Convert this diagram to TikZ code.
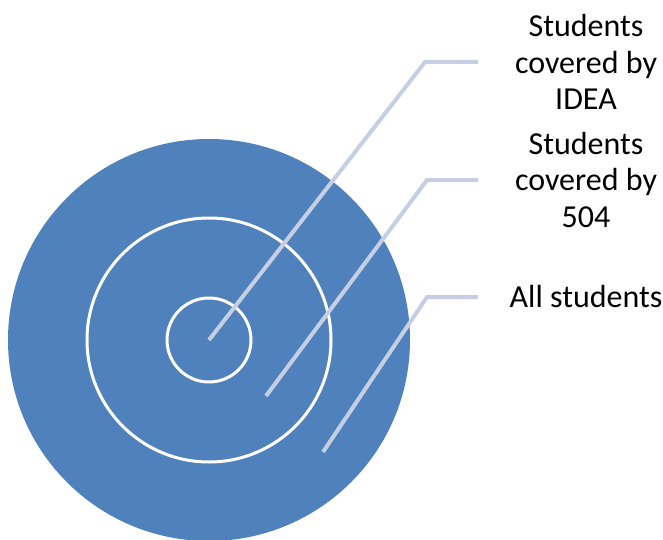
\documentclass[tikz,border=0pt]{standalone}
\usepackage{fontspec}
\setmainfont{Carlito}
\usepackage{tikz}
\usetikzlibrary{arrows}

\definecolor{discblue}{RGB}{79,129,189}
\definecolor{leadgray}{RGB}{198,206,228}

\begin{document}
\begin{tikzpicture}[x=1pt,y=-1pt,
  disc node/.style={circle,fill=discblue,inner sep=0pt},
  ring node/.style={circle,draw=white,line width=3pt,inner sep=0pt},
  text node/.style={align=center,anchor=base,text=black,font=\fontsize{32}{36.5}\selectfont},
  leader/.style={draw=leadgray,line width=4pt}]
  \useasboundingbox (0,0) rectangle (663,540);

  \node[disc node,minimum size=402pt] (all) at (209,340) {};
  \node[ring node,minimum size=244pt] (s504) at (209,340) {};
  \node[ring node,minimum size=84pt] (idea) at (209,340) {};

  % base = last line of each label
  \node[text node] (ideatxt) at (586,110) {Students\\covered by\\IDEA};
  \node[text node] (s504txt) at (586,227) {Students\\covered by\\504};
  \node[text node] (alltxt) at (586,307) {All students};

  \coordinate (ideain) at (209,340);
  \coordinate (ideabend) at (425,62);
  \coordinate (ideaend) at (478,62);
  \coordinate (s504in) at (266,396);
  \coordinate (s504bend) at (427,180);
  \coordinate (s504end) at (478,180);
  \coordinate (allin) at (323,452);
  \coordinate (allbend) at (427,297);
  \coordinate (allend) at (478,297);

  \path[leader]
    (ideain) -- (ideabend) -- (ideaend)
    (s504in) -- (s504bend) -- (s504end)
    (allin) -- (allbend) -- (allend);
\end{tikzpicture}
\end{document}
